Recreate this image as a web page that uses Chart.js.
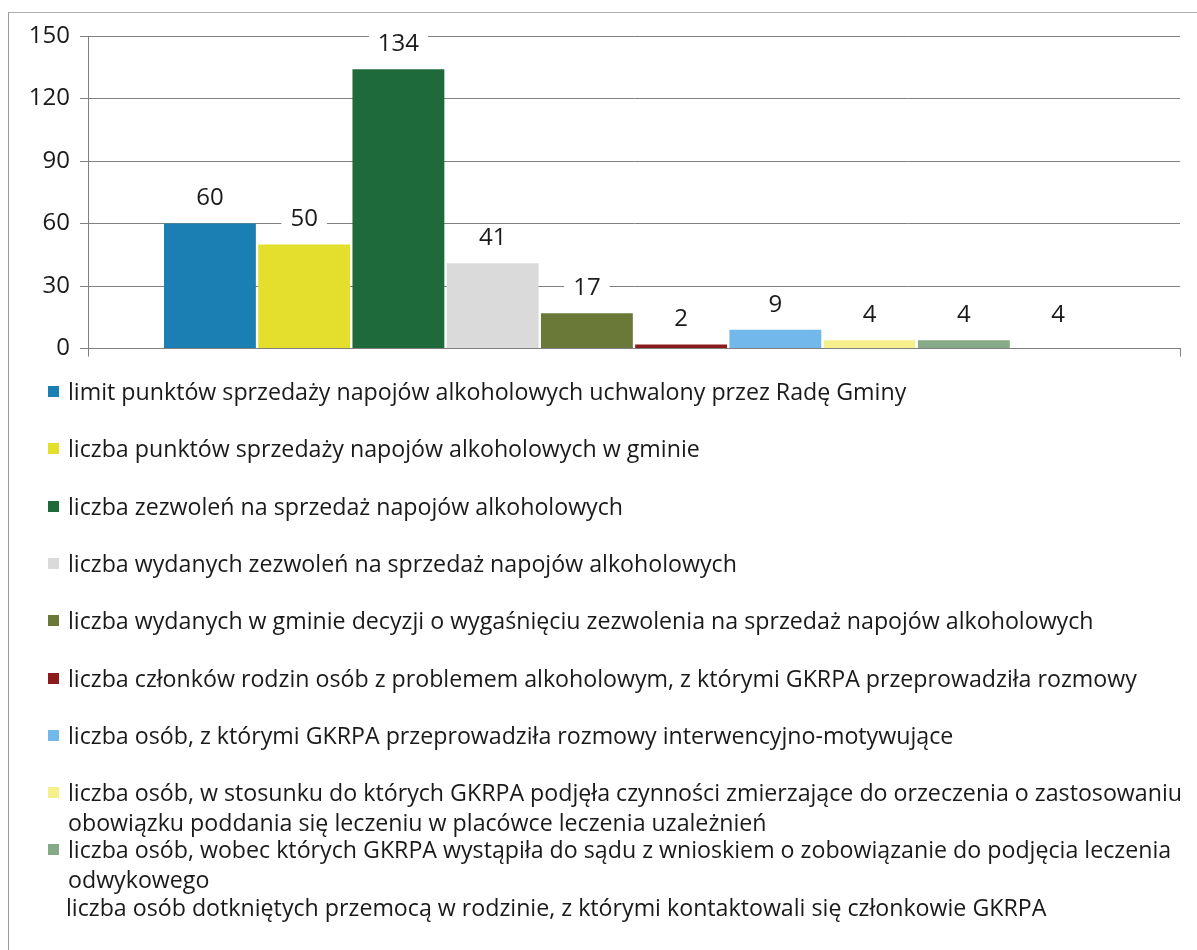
<!DOCTYPE html>
<html>
<head>
<meta charset="utf-8">
<script src="https://cdn.jsdelivr.net/npm/chart.js@4/dist/chart.umd.min.js"></script>
<style>
  body { margin: 0; background: #fff; font-family: "Open Sans", sans-serif; }
  #frame { position: absolute; left: 8px; top: 12px; width: 1189px; height: 938px;
    border-left: 1px solid #9a9a9a; border-top: 1px solid #b0b0b0; }
  #wrap { position: absolute; left: 0; top: 0; width: 1197px; height: 373px; }
  #legend { position: absolute; left: 0; top: 0; width: 1197px; height: 950px; pointer-events: none; }
  .item { position: absolute; left: 68px; font-size: 23.2px; line-height: 30px; color: #1a1a1a; white-space: pre; }
  .box { position: absolute; left: -20px; top: 10px; width: 11px; height: 11px; }
</style>
</head>
<body>
<div id="frame"></div>
<div id="wrap"><canvas id="chart"></canvas></div>
<div id="legend"></div>
<script>
const seriesLabels = [
  "limit punktów sprzedaży napojów alkoholowych uchwalony przez Radę Gminy",
  "liczba punktów sprzedaży napojów alkoholowych w gminie",
  "liczba zezwoleń na sprzedaż napojów alkoholowych",
  "liczba wydanych zezwoleń na sprzedaż napojów alkoholowych",
  "liczba wydanych w gminie decyzji o wygaśnięciu zezwolenia na sprzedaż napojów alkoholowych",
  "liczba członków rodzin osób z problemem alkoholowym, z którymi GKRPA przeprowadziła rozmowy",
  "liczba osób, z którymi GKRPA przeprowadziła rozmowy interwencyjno-motywujące",
  "liczba osób, w stosunku do których GKRPA podjęła czynności zmierzające do orzeczenia o zastosowaniu\nobowiązku poddania się leczeniu w placówce leczenia uzależnień",
  "liczba osób, wobec których GKRPA wystąpiła do sądu z wnioskiem o zobowiązanie do podjęcia leczenia\nodwykowego",
  "liczba osób dotkniętych przemocą w rodzinie, z którymi kontaktowali się członkowie GKRPA",
];
const seriesValues = [60, 50, 134, 41, 17, 2, 9, 4, 4, 4];
const seriesColors = [
  "#1b7fb3", "#e3df2c", "#1e6a3b", "#dadada", "#6a7838",
  "#8c1c1c", "#72b8ea", "#f5f08c", "#86aa88", "#ffffff",
];
const yMax = 150;
const yStep = 30;

const dataLabels = {
  id: "dataLabels",
  afterDatasetsDraw(chart) {
    const ctx = chart.ctx;
    ctx.save();
    ctx.font = "24px 'Open Sans'";
    ctx.textAlign = "center";
    ctx.textBaseline = "middle";
    chart.data.datasets.forEach((ds, i) => {
      const bar = chart.getDatasetMeta(i).data[0];
      const txt = String(ds.data[0]);
      const w = ctx.measureText(txt).width;
      const y = bar.y - 25;
      ctx.fillStyle = "#fff";
      ctx.fillRect(bar.x - w / 2 - 9, y - 12, w + 18, 24);
      ctx.fillStyle = "#1a1a1a";
      ctx.fillText(txt, bar.x, y);
    });
    ctx.restore();
  },
};

const chart = new Chart(document.getElementById("chart"), {
  type: "bar",
  data: {
    labels: [""],
    datasets: seriesLabels.map((label, i) => ({
      label: label,
      data: [seriesValues[i]],
      backgroundColor: seriesColors[i],
      categoryPercentage: 0.863,
      barPercentage: 0.975,
    })),
  },
  options: {
    responsive: true,
    maintainAspectRatio: false,
    animation: false,
    layout: { padding: { top: 36, right: 17, left: 0, bottom: 0 } },
    scales: {
      x: {
        grid: { display: true, drawOnChartArea: false, tickLength: 8, color: "#808080", offset: true },
        border: { color: "#808080" },
        ticks: { display: false },
        afterFit(scale) { scale.height = 16; },
      },
      y: {
        min: 0,
        max: yMax,
        ticks: { stepSize: yStep, padding: 10, color: "#1a1a1a", font: { family: "Open Sans", size: 24 } },
        grid: { color: "#808080", tickLength: 8 },
        border: { color: "#808080" },
        afterFit(scale) { scale.width = 88; },
      },
    },
    plugins: {
      legend: { display: false },
      tooltip: { enabled: false },
    },
  },
  plugins: [dataLabels],
});

// legend built from the chart's datasets
const legend = document.getElementById("legend");
chart.data.datasets.forEach((ds, i) => {
  const item = document.createElement("div");
  item.className = "item";
  item.style.top = (376 + i * 57.3) + "px";
  item.textContent = ds.label;
  if (ds.backgroundColor !== "#ffffff") {
    const box = document.createElement("span");
    box.className = "box";
    box.style.background = ds.backgroundColor;
    item.appendChild(box);
  } else {
    item.style.left = "66px";
  }
  legend.appendChild(item);
});
</script>
</body>
</html>
